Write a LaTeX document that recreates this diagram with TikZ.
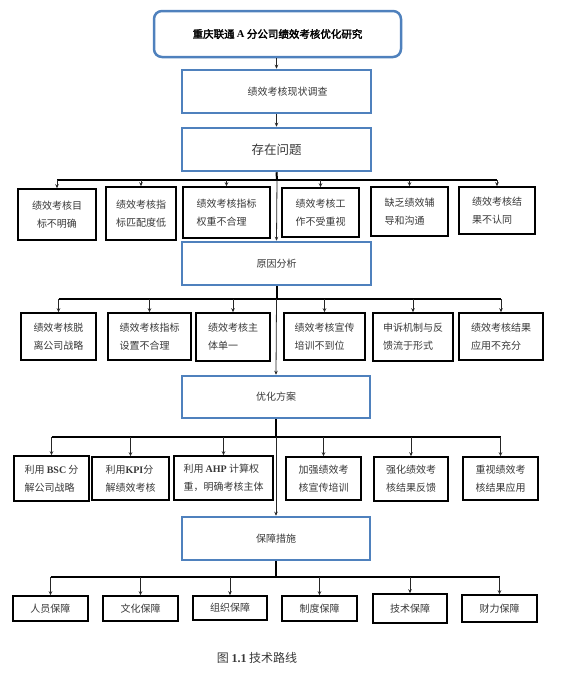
\documentclass[tikz,border=0pt]{standalone}
\usepackage{fontspec}
\setmainfont{Noto Sans CJK SC}
\newfontfamily\lat{Liberation Serif}
\newfontfamily\cjkb[FakeBold=2.5]{Noto Sans CJK SC}
\usetikzlibrary{arrows.meta}
\definecolor{myblue}{RGB}{79,129,189}
\definecolor{txt}{gray}{0.22}
\tikzset{
  bluebox/.style={draw=myblue, line width=2.5pt, rectangle, inner sep=0pt, text=txt,
    font=\fontsize{10}{12}\selectfont},
  blkbox/.style={draw=black, line width=1.5pt, rectangle, inner sep=0pt, align=left, text=txt,
    font=\fontsize{10}{18}\selectfont},
  busline/.style={line width=2pt, black},
  arr/.style={line width=0.8pt, black!85, -{Stealth[length=4pt,width=3.5pt]}},
}
\begin{document}
\begin{tikzpicture}[x=1pt,y=-1pt]
\useasboundingbox (0,0) rectangle (566,678);
% main chain
\node[bluebox, rounded corners=8pt, minimum width=247pt, minimum height=46pt, text=black] (t) at (277.5,34)
  {\cjkb\fontsize{10.5}{12}\selectfont 重庆联通 {\lat\bfseries A} 分公司绩效考核优化研究};
\node[bluebox, minimum width=189pt, minimum height=43pt] (m2) at (276.5,91.5) {\hspace*{22pt}绩效考核现状调查};
\node[bluebox, minimum width=189pt, minimum height=43pt, font=\fontsize{12.5}{14}\selectfont] (m3) at (276.5,149.5) {存在问题};
\node[bluebox, minimum width=189pt, minimum height=43pt] (m4) at (276.5,263.5) {原因分析};
\node[bluebox, minimum width=188pt, minimum height=42pt] (m5) at (276,397) {优化方案};
\node[bluebox, minimum width=188pt, minimum height=43pt] (m6) at (276,538.5) {保障措施};

\draw[arr] (m2.north |- t.south) -- (m2.north);
\draw[arr] (m2.south) -- (m3.north);

% row 1
\node[blkbox, align=center, minimum width=78pt, minimum height=51pt] (a1) at (57,214.5) {绩效考核目\\标不明确};
\node[blkbox, minimum width=70pt, minimum height=53pt] (a2) at (141,213.5) {绩效考核指\\标匹配度低};
\node[blkbox, minimum width=87pt, minimum height=51pt] (a3) at (226.5,212.5) {绩效考核指标\\权重不合理};
\node[blkbox, minimum width=77pt, minimum height=49pt] (a4) at (320.5,212.5) {绩效考核工\\作不受重视};
\node[blkbox, minimum width=77pt, minimum height=49pt] (a5) at (409.5,211.5) {缺乏绩效辅\\导和沟通};
\node[blkbox, minimum width=76pt, minimum height=47pt] (a6) at (497,210.5) {绩效考核结\\果不认同};
\coordinate (j1) at (277,180);
\draw[busline] (m3.south) -- (j1);
\draw[busline] (a1.north |- j1) -- (a6.north |- j1);
\foreach \n in {a1,a2,a3,a4,a5,a6} \draw[arr] (\n.north |- j1) -- (\n.north);
\draw[arr] (j1) -- (m4.north);

% row 2
\node[blkbox, minimum width=75pt, minimum height=47pt] (b1) at (58.5,336.5) {绩效考核脱\\离公司战略};
\node[blkbox, minimum width=83pt, minimum height=47pt] (b2) at (149.5,336.5) {绩效考核指标\\设置不合理};
\node[blkbox, minimum width=74pt, minimum height=48pt] (b3) at (233,337) {绩效考核主\\体单一};
\node[blkbox, minimum width=81pt, minimum height=47pt] (b4) at (324.5,336.5) {绩效考核宣传\\培训不到位};
\node[blkbox, minimum width=80pt, minimum height=48pt] (b5) at (413,337) {申诉机制与反\\馈流于形式};
\node[blkbox, minimum width=84pt, minimum height=47pt] (b6) at (501,336.5) {绩效考核结果\\应用不充分};
\coordinate (j2) at (276.5,299);
\draw[busline] (m4.south) -- (j2);
\draw[busline] (b1.north |- j2) -- (b6.north |- j2);
\foreach \n in {b1,b2,b3,b4,b5,b6} \draw[arr] (\n.north |- j2) -- (\n.north);
\draw[arr] (j2) -- (m5.north);

% row 3
\node[blkbox, minimum width=75pt, minimum height=45pt] (c1) at (51.5,478.5) {利用 {\lat\bfseries BSC} 分\\解公司战略};
\node[blkbox, minimum width=77pt, minimum height=43pt] (c2) at (130.5,478.5) {利用{\lat\bfseries KPI}分\\解绩效考核};
\node[blkbox, minimum width=99pt, minimum height=44pt] (c3) at (223.5,478) {利用 {\lat\bfseries AHP} 计算权\\重，明确考核主体};
\node[blkbox, minimum width=75pt, minimum height=43pt] (c4) at (323.5,478.5) {加强绩效考\\核宣传培训};
\node[blkbox, minimum width=74pt, minimum height=44pt] (c5) at (411,479) {强化绩效考\\核结果反馈};
\node[blkbox, minimum width=75pt, minimum height=43pt] (c6) at (500.5,478.5) {重视绩效考\\核结果应用};
\coordinate (j3) at (276,437);
\draw[busline] (m5.south) -- (j3);
\draw[busline] (c1.north |- j3) -- (c6.north |- j3);
\foreach \n in {c1,c2,c3,c4,c5,c6} \draw[arr] (\n.north |- j3) -- (\n.north);
\draw[arr] (j3) -- (m6.north);

% row 4
\node[blkbox, minimum width=75pt, minimum height=25pt] (d1) at (50.5,608.5) {人员保障};
\node[blkbox, minimum width=75pt, minimum height=25pt] (d2) at (140.5,608.5) {文化保障};
\node[blkbox, minimum width=74pt, minimum height=24pt] (d3) at (230,608) {组织保障};
\node[blkbox, minimum width=75pt, minimum height=25pt] (d4) at (319.5,608.5) {制度保障};
\node[blkbox, minimum width=74pt, minimum height=29pt] (d5) at (410,608.5) {技术保障};
\node[blkbox, minimum width=75pt, minimum height=27pt] (d6) at (499.5,608.5) {财力保障};
\coordinate (j4) at (276,577);
\draw[busline] (m6.south) -- (j4);
\draw[busline] (d1.north |- j4) -- (d6.north |- j4);
\foreach \n in {d1,d2,d3,d4,d5,d6} \draw[arr] (\n.north |- j4) -- (\n.north);

% caption
\node[text=txt, font=\fontsize{12}{14}\selectfont] (cap) at (257,658) {图 {\lat\bfseries 1.1} 技术路线};
\end{tikzpicture}
\end{document}
